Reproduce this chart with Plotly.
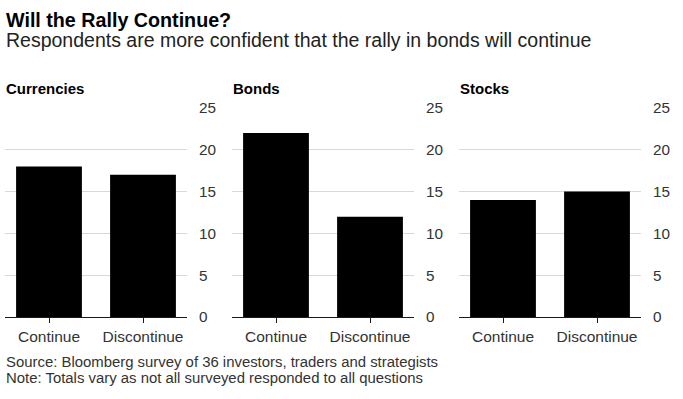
import plotly.graph_objects as go

categories = ["Continue", "Discontinue"]
panel_titles = ["Currencies", "Bonds", "Stocks"]
currencies = [18, 17]
bonds = [22, 12]
stocks = [14, 15]
y_ticks = [0, 5, 10, 15, 20, 25]

W, H = 683, 399
FONT = "Liberation Sans"

def px_x(p):
    return p / W

def px_y(p):
    return (H - p) / H

domains = [(5, 187), (232, 414), (459, 641)]
series = [currencies, bonds, stocks]

fig = go.Figure()
for i, (vals, (x0, x1)) in enumerate(zip(series, domains)):
    n = "" if i == 0 else str(i + 1)
    fig.add_trace(go.Bar(x=categories, y=vals, marker_color="#000000",
                         marker_line_width=0, width=0.70,
                         xaxis="x" + n, yaxis="y" + n, showlegend=False,
                         hoverinfo="skip"))
    fig.layout["xaxis" + n] = dict(
        domain=[px_x(x0), px_x(x1)], anchor="y" + n, range=[-0.468, 1.468],
        showline=True, linecolor="#1a1a1a", linewidth=1,
        ticks="outside", ticklen=5, tickcolor="#1a1a1a", tickwidth=1,
        tickfont=dict(family=FONT, size=15.5, color="#333333"),
        showgrid=False, zeroline=False, fixedrange=True)
    fig.layout["yaxis" + n] = dict(
        domain=[px_y(321.7), px_y(103.3)], anchor="x" + n, side="right",
        range=[0, 25], tickvals=y_ticks,
        showgrid=True, gridcolor="#d9d9d9", gridwidth=1, zeroline=False,
        ticks="outside", ticklen=8, tickcolor="rgba(0,0,0,0)",
        tickfont=dict(family=FONT, size=15.3, color="#333333"),
        showline=False, fixedrange=True)

annotations = [
    dict(text="<b>Will the Rally Continue?</b>", x=px_x(4), y=px_y(11.5),
         font=dict(family=FONT, size=19.7, color="#000000")),
    dict(text="Respondents are more confident that the rally in bonds will continue",
         x=px_x(4), y=px_y(32.5), font=dict(family=FONT, size=19.5, color="#222222")),
    dict(text="Source: Bloomberg survey of 36 investors, traders and strategists",
         x=px_x(4), y=px_y(369), font=dict(family=FONT, size=14.9, color="#333333")),
    dict(text="Note: Totals vary as not all surveyed responded to all questions",
         x=px_x(4), y=px_y(385.5), font=dict(family=FONT, size=14.9, color="#333333")),
]
for t, (x0, x1) in zip(panel_titles, domains):
    annotations.append(dict(text="<b>" + t + "</b>", x=px_x(x0 - 1), y=px_y(83.5),
                            font=dict(family=FONT, size=15, color="#000000")))
for a in annotations:
    a.update(xref="paper", yref="paper", xanchor="left", yanchor="middle",
             showarrow=False)

fig.update_layout(width=W, height=H, margin=dict(l=0, r=0, t=0, b=0),
                  paper_bgcolor="white", plot_bgcolor="white",
                  annotations=annotations)

fig.write_html("out.html", config={"displayModeBar": False},
               post_script="document.body.style.margin='0';document.body.style.overflow='hidden';")
